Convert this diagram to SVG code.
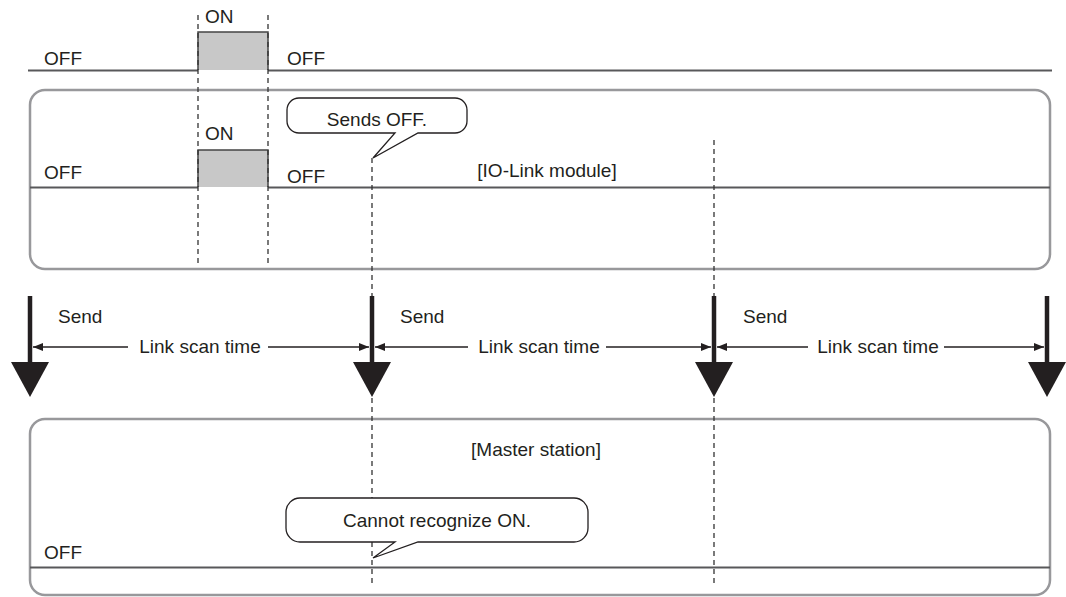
<svg xmlns="http://www.w3.org/2000/svg" width="1066" height="597" viewBox="0 0 1066 597">
<defs>
<style>
text{font-family:"Liberation Sans",Arial,sans-serif;font-size:19px;fill:#231f20}
.box{fill:none;stroke:#98989b;stroke-width:2.5}
.tl{fill:none;stroke:#58585a;stroke-width:2}
.dash{fill:none;stroke:#333;stroke-width:1.3;stroke-dasharray:5 4}
.pulse{fill:#c8c8c8;stroke:#444;stroke-width:1.5}
.bub{fill:#fff;stroke:#231f20;stroke-width:1.3}
.shaft{stroke:#231f20;stroke-width:4.5}
.head{fill:#231f20}
.dim{stroke:#231f20;stroke-width:1.3;fill:none}
</style>
<marker id="ah" viewBox="0 0 10 8" refX="10" refY="4" markerWidth="10" markerHeight="8" markerUnits="userSpaceOnUse" orient="auto-start-reverse">
<path d="M0,0 L10,4 L0,8 Z" fill="#231f20"/>
</marker>
</defs>

<g id="input-signal">
<path class="pulse" d="M198,70 V32 H268 V70" />
<path class="tl" d="M28,70.5 H198 M268,70.5 H1052"/>
<text x="44" y="65">OFF</text>
<text x="205" y="23">ON</text>
<text x="287" y="65">OFF</text>
</g>

<g id="io-link-module">
<rect class="box" x="30" y="90" width="1020" height="179" rx="15"/>
<path class="pulse" d="M198,187 V150 H268 V187"/>
<path class="tl" d="M30,187.5 H198 M268,187.5 H1050"/>
<text x="44" y="179">OFF</text>
<text x="205" y="140">ON</text>
<text x="287" y="183">OFF</text>
<text x="547" y="177" text-anchor="middle">[IO-Link module]</text>
</g>

<g id="master-station">
<rect class="box" x="30" y="419" width="1020" height="176" rx="15"/>
<path class="tl" d="M30,567.5 H1050"/>
<text x="44" y="559">OFF</text>
<text x="536" y="456" text-anchor="middle">[Master station]</text>
</g>

<g id="connectors">
<path class="dash" d="M198,15 V265 M268,15 V265"/>
<path class="dash" d="M372,158 V296 M372,398 V584"/>
<path class="dash" d="M714,140 V297 M714,398 V584"/>

<g id="send-arrows">
<line class="shaft" x1="30" y1="296" x2="30" y2="366"/>
<path class="head" d="M11,362 H49 L30,397 Z"/>
<line class="shaft" x1="372" y1="296" x2="372" y2="366"/>
<path class="head" d="M353,362 H391 L372,397 Z"/>
<line class="shaft" x1="714" y1="296" x2="714" y2="366"/>
<path class="head" d="M695,362 H733 L714,397 Z"/>
<line class="shaft" x1="1047" y1="296" x2="1047" y2="366"/>
<path class="head" d="M1028,362 H1066 L1047,397 Z"/>
</g>

<g id="scan-dims">
<line class="dim" x1="128" y1="347" x2="33" y2="347" marker-end="url(#ah)"/>
<line class="dim" x1="268" y1="347" x2="369" y2="347" marker-end="url(#ah)"/>
<line class="dim" x1="468" y1="347" x2="375" y2="347" marker-end="url(#ah)"/>
<line class="dim" x1="606" y1="347" x2="711" y2="347" marker-end="url(#ah)"/>
<line class="dim" x1="808" y1="347" x2="717" y2="347" marker-end="url(#ah)"/>
<line class="dim" x1="944" y1="347" x2="1044" y2="347" marker-end="url(#ah)"/>
</g>
</g>

<g id="labels">
<text x="58" y="323">Send</text>
<text x="400" y="323">Send</text>
<text x="743" y="323">Send</text>
<text x="200" y="353" text-anchor="middle">Link scan time</text>
<text x="539" y="353" text-anchor="middle">Link scan time</text>
<text x="878" y="353" text-anchor="middle">Link scan time</text>
</g>

<g id="bubble-sends-off">
<path class="bub" d="M299,98 H455 A12,12 0 0 1 467,110 V121 A12,12 0 0 1 455,133 H418 L373,158 L395,133 H299 A12,12 0 0 1 287,121 V110 A12,12 0 0 1 299,98 Z"/>
<text x="377" y="126" text-anchor="middle">Sends OFF.</text>
</g>

<g id="bubble-cannot-recognize">
<path class="bub" d="M300,498 H574 A14,14 0 0 1 588,512 V528 A14,14 0 0 1 574,542 H418 L373,558 L395,542 H300 A14,14 0 0 1 286,528 V512 A14,14 0 0 1 300,498 Z"/>
<text x="437" y="527" text-anchor="middle">Cannot recognize ON.</text>
</g>
</svg>
